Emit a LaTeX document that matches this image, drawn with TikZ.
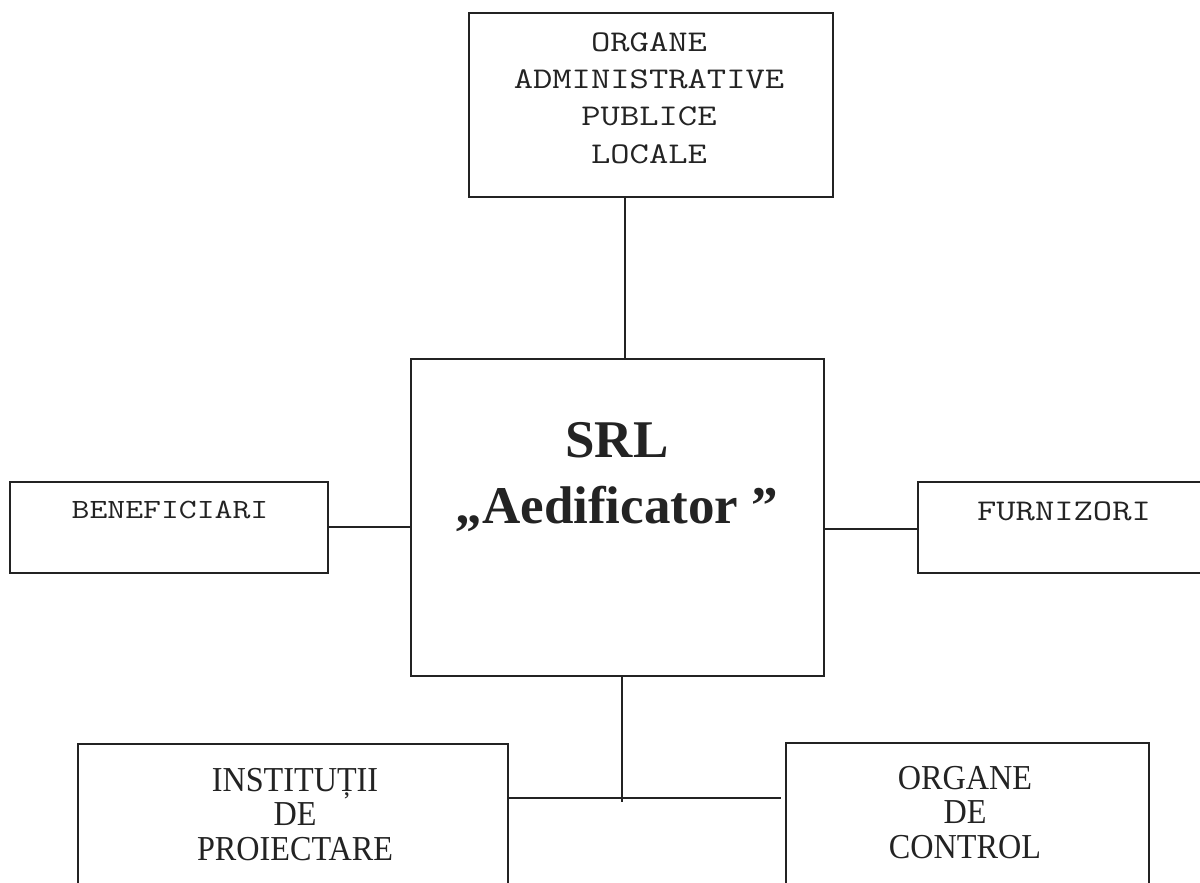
\documentclass[tikz,border=0pt]{standalone}
\usepackage{graphicx}
\usepackage{fontspec}
\setmainfont{Liberation Serif}
\definecolor{ink}{RGB}{35,35,35}
\newcommand{\mymono}[2]{\scalebox{1.21}[0.97]{\fontsize{#1}{38.2}\selectfont\ttfamily\begin{tabular}[b]{@{}c@{}}#2\end{tabular}}}
\begin{document}
\begin{tikzpicture}[x=1pt,y=-1pt,
  boxshape/.style={draw=ink, line width=2pt, rectangle, inner sep=0pt, fill=none},
  monotext/.style={text=ink, inner sep=0pt, anchor=base},
  boldtext/.style={text=ink, align=center, inner sep=0pt, text depth=0pt,
                   font=\bfseries\fontsize{53}{66}\selectfont},
  serifbig/.style={text=ink, align=center, inner sep=0pt, text depth=0pt,
                   font=\addfontfeatures{FakeStretch=0.92}\fontsize{35}{34.5}\selectfont},
  wire/.style={draw=ink, line width=2pt}]
\useasboundingbox (0,0) rectangle (1200,883);
\clip (0,0) rectangle (1200,883);
\fill[white] (0,0) rectangle (1200,883);

% boxes
\node[boxshape, minimum width=364pt, minimum height=184pt] (top) at (651,105) {};
\node[boxshape, minimum width=413pt, minimum height=317pt] (srl) at (617,517) {};
\node[boxshape, minimum width=318pt, minimum height=91pt] (ben) at (169,527) {};
\node[boxshape, minimum width=303pt, minimum height=91pt] (fur) at (1069,527) {};
\node[boxshape, minimum width=430pt, minimum height=156pt] (inst) at (293,822) {};
\node[boxshape, minimum width=363pt, minimum height=157pt] (ctrl) at (967,821.5) {};

% texts
\node[monotext] (toptxt) at (649,163)
  {\mymono{31}{ORGANE\\ADMINISTRATIVE\\PUBLICE\\LOCALE}};
\node[monotext] (bentxt) at (170,518) {\mymono{28.7}{BENEFICIARI}};
\node[monotext] (furtxt) at (1064,520) {\mymono{31}{FURNIZORI}};
\node[boldtext] (srltxt) at (617,472.5) {SRL\\„Aedificator ”};
\node[serifbig] (insttxt) at (295,814) {INSTITUȚII\\DE\\PROIECTARE};
\node[serifbig] (ctrltxt) at (965,812) {ORGANE\\DE\\CONTROL};

% connectors
\coordinate (vtop) at (625,0);
\coordinate (by) at (0,527);
\coordinate (fy) at (0,529);
\draw[wire] (top.south -| vtop) -- (srl.north -| vtop);
\draw[wire] (ben.east |- by) -- (srl.west |- by);
\draw[wire] (fur.west |- fy) -- (srl.east |- fy);
\coordinate (jend) at (622,802);
\coordinate (hend) at (781,798);
\draw[wire] (srl.south -| jend) -- (jend);
\draw[wire] (inst.east |- hend) -- (hend);
\end{tikzpicture}
\end{document}
